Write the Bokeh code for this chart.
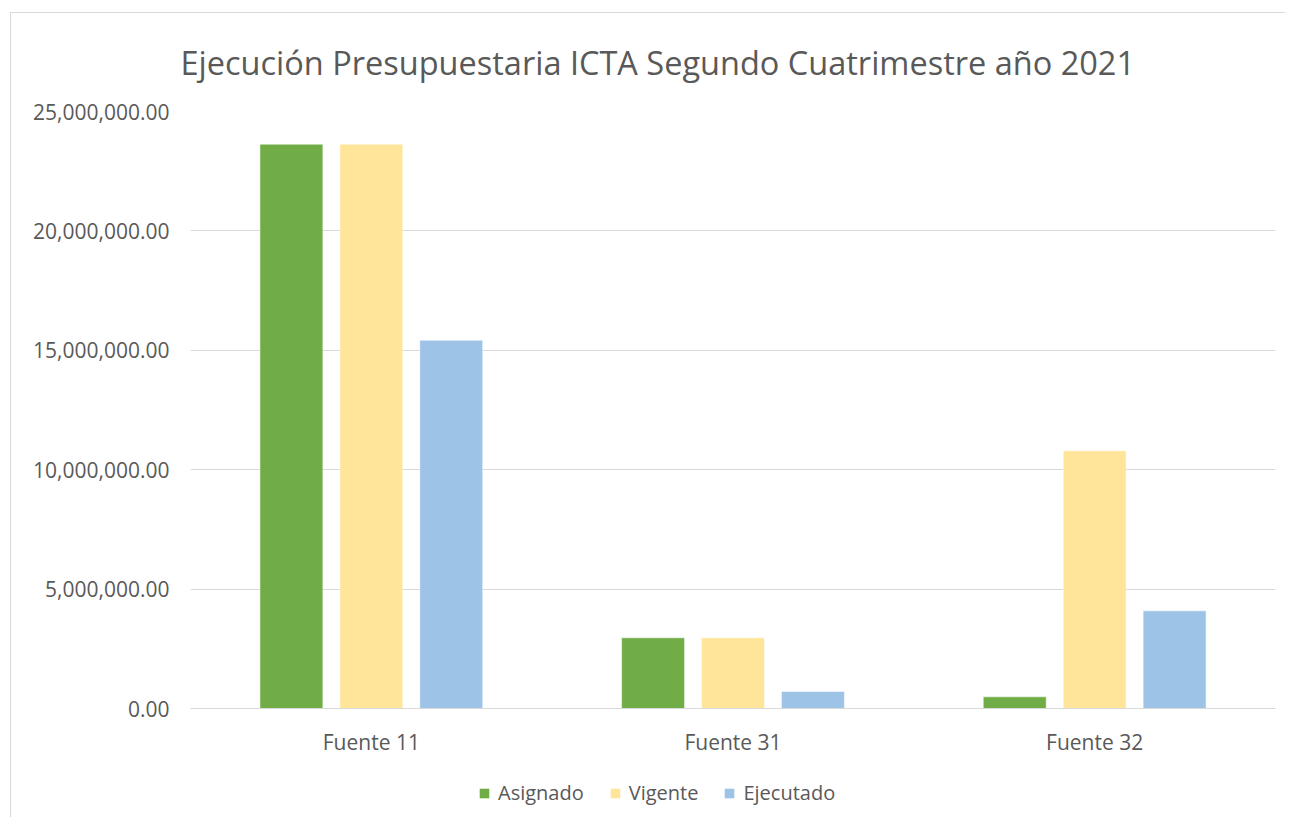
from bokeh.plotting import figure
from bokeh.layouts import column
from bokeh.models import ColumnDataSource, FactorRange, Legend, LegendItem, NumeralTickFormatter, FixedTicker, Range1d
from bokeh.transform import dodge
from bokeh.embed import file_html
from bokeh.resources import INLINE

categories = ["Fuente 11", "Fuente 31", "Fuente 32"]
asignado = [23630000, 2960000, 490000]
vigente = [23630000, 2960000, 10790000]
ejecutado = [15420000, 710000, 4090000]
series_names = ["Asignado", "Vigente", "Ejecutado"]
colors = ["#70AD47", "#FFE599", "#9DC3E6"]
y_ticks = [0, 5000000, 10000000, 15000000, 20000000, 25000000]

source = ColumnDataSource(dict(cat=categories, Asignado=asignado, Vigente=vigente, Ejecutado=ejecutado))

FONT = "Open Sans"
GREY = "#595959"

p = figure(x_range=FactorRange(*categories, range_padding=0), y_range=(0, 25000000),
           width=1274, height=747, output_backend="svg", toolbar_location=None,
           min_border_left=179, min_border_right=10, min_border_top=98, min_border_bottom=52,
           title="Ejecución Presupuestaria ICTA Segundo Cuatrimestre año 2021")

offsets = [-0.221, 0.0, 0.221]
for name, off, col in zip(series_names, offsets, colors):
    p.vbar(x=dodge("cat", off, range=p.x_range), top=name, width=0.174, source=source,
           fill_color=col, line_color="white", line_alpha=0.5, line_width=1)

p.outline_line_color = None
p.xgrid.grid_line_color = None
p.ygrid.grid_line_color = "#d9d9d9"
p.ygrid.grid_line_width = 1
p.yaxis.ticker = FixedTicker(ticks=y_ticks)
p.yaxis.formatter = NumeralTickFormatter(format="0,0.00")
for ax in (p.xaxis, p.yaxis):
    ax.axis_line_color = None
    ax.major_tick_line_color = None
    ax.minor_tick_line_color = None
    ax.major_label_text_font = FONT
    ax.major_label_text_color = GREY
    ax.major_label_text_font_size = "21px"
p.yaxis.major_label_standoff = 15
p.xaxis.major_label_standoff = 13
p.xaxis.axis_line_color = "#d9d9d9"

p.title.text_font = FONT
p.title.text_font_size = "32.5px"
p.title.text_font_style = "normal"
p.title.text_color = GREY
p.title.align = "left"
p.title.vertical_align = "top"
p.title.offset = -10
p.title.standoff = 50

# legend strip below the chart (zero-width proxy bars, only their legend swatches show)
lg = figure(width=1274, height=57, output_backend="svg", toolbar_location=None,
            x_range=FactorRange(*categories, range_padding=0), y_range=Range1d(-3e7, -2.9e7),
            x_axis_type=None, y_axis_type=None, min_border=0, outline_line_color=None)
lg.xgrid.visible = False
lg.ygrid.visible = False
proxies = [lg.vbar(x="cat", top=name, width=0, source=source, fill_color=c, line_color=None)
           for name, c in zip(series_names, colors)]
legend = Legend(items=[LegendItem(label=n, renderers=[r]) for n, r in zip(series_names, proxies)],
                orientation="horizontal", location=(288, 11),
                glyph_width=12, glyph_height=12, label_standoff=8, spacing=25,
                label_text_font=FONT, label_text_font_size="20px", label_text_color=GREY,
                border_line_color=None, background_fill_alpha=0, padding=0, margin=0)
lg.add_layout(legend, "center")

layout = column(p, lg, spacing=0)
layout.styles = {"border-left": "1px solid #d9d9d9", "border-top": "1px solid #d9d9d9",
                 "margin-left": "10px", "margin-top": "12px"}

open("out.html", "w").write(file_html(layout, INLINE))
